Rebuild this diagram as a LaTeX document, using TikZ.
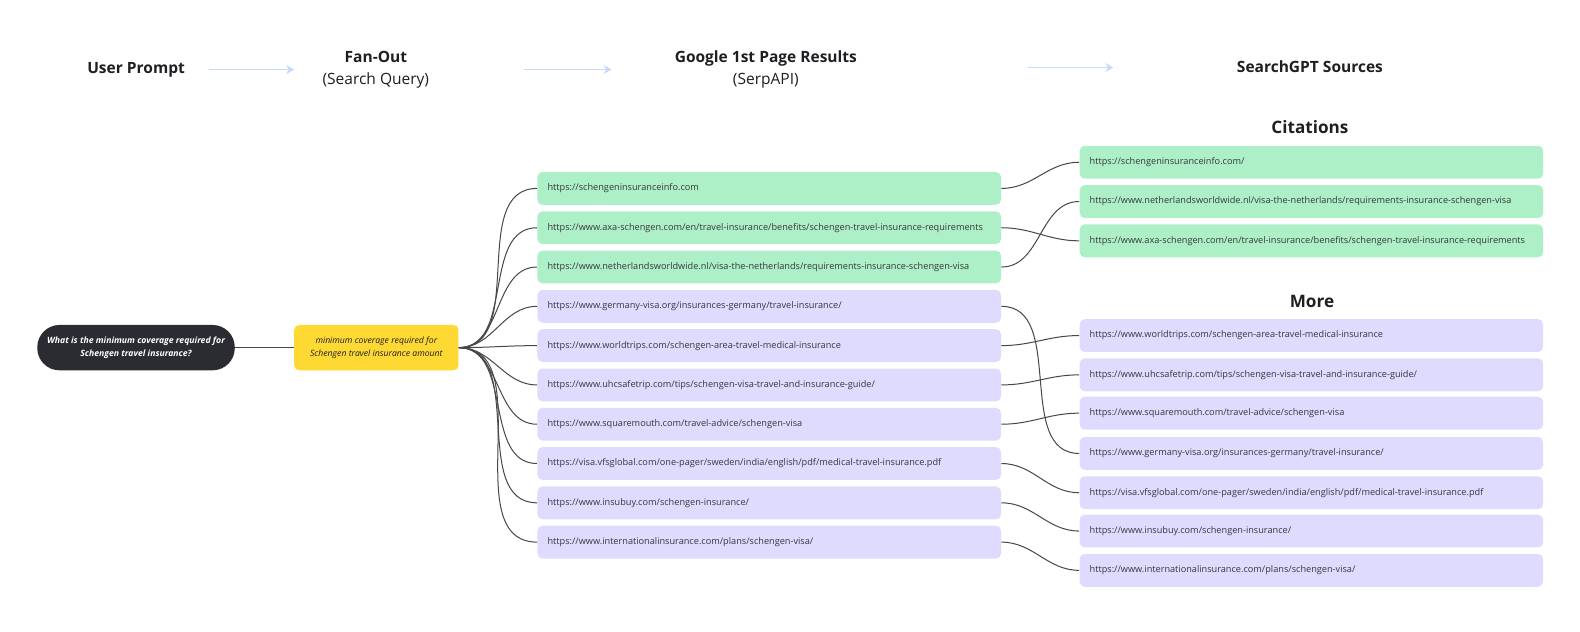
\documentclass[tikz,border=0pt]{standalone}
\usepackage{fontspec}
\setmainfont{Open Sans}
\usetikzlibrary{arrows.meta}
\definecolor{miroGreen}{RGB}{173,240,199}
\definecolor{miroLilac}{RGB}{222,219,255}
\definecolor{miroYellow}{RGB}{254,217,52}
\definecolor{miroDark}{RGB}{43,44,50}
\definecolor{miroArrow}{RGB}{198,218,250}
\definecolor{miroInk}{RGB}{30,30,35}
\definecolor{miroLink}{RGB}{55,55,60}
\tikzset{
  hdr/.style   ={font=\fontsize{7.7}{11}\selectfont, text=miroInk, align=center, inner sep=0pt},
  subhdr/.style={font=\fontsize{8.5}{10}\selectfont\bfseries, text=miroInk, inner sep=0pt},
  flow/.style  ={-{Stealth[length=4pt, width=4.5pt]}, line width=0.9pt, miroArrow},
  url/.style   ={rectangle, rounded corners=2.5pt, anchor=west, text width=220pt,
                 inner xsep=5pt, inner ysep=0pt, minimum height=16.3pt, align=left,
                 font=\fontsize{4.55}{5.5}\selectfont, text=miroLink},
  urlG/.style  ={url, fill=miroGreen},
  urlP/.style  ={url, fill=miroLilac},
  prompt/.style={rectangle, rounded corners=11pt, fill=miroDark, text=white,
                 minimum width=98pt, minimum height=22.5pt, align=center,
                 font=\fontsize{4.3}{6.3}\selectfont\bfseries\itshape},
  query/.style ={rectangle, rounded corners=2.5pt, fill=miroYellow, text=miroInk,
                 minimum width=81.5pt, minimum height=22.5pt, align=center,
                 font=\fontsize{4.3}{6.3}\selectfont\itshape},
  link/.style  ={line width=0.5pt, black!72},
}
\begin{document}
\begin{tikzpicture}[x=0.5pt, y=-0.5pt]
\useasboundingbox (0,0) rectangle (1568,627);
% column headers
\node[hdr] (hUser) at (135,69) {\textbf{User Prompt}};
\node[hdr] (hFan) at (373,69) {\textbf{Fan-Out}\\(Search Query)};
\node[hdr] (hSerp) at (760,69) {\textbf{Google 1st Page Results}\\(SerpAPI)};
\node[hdr] (hGPT) at (1300,66) {\textbf{SearchGPT Sources}};
\node[subhdr] (hCite) at (1300,126) {Citations};
\node[subhdr] (hMore) at (1302,299) {More};
\coordinate (a1s) at (207,69);  \coordinate (a1e) at (292,69);
\coordinate (a2s) at (520,69);  \coordinate (a2e) at (607,69);
\coordinate (a3s) at (1020,67); \coordinate (a3e) at (1105,67);
\draw[flow] (a1s) -- (a1e);
\draw[flow] (a2s) -- (a2e);
\draw[flow] (a3s) -- (a3e);
% prompt and fan-out query
\node[prompt] (prompt) at (135,345) {What is the minimum coverage required for\\Schengen travel insurance?};
\node[query] (query) at (373.5,345) {minimum coverage required for\\Schengen travel insurance amount};
\draw[link, line width=0.7pt] (prompt) -- (query);
% google results
\foreach \i/\y/\s/\u in {
  1/187/urlG/{https://schengeninsuranceinfo.com},
  2/226/urlG/{https://www.axa-schengen.com/en/travel-insurance/benefits/schengen-travel-insurance-requirements},
  3/265/urlG/{https://www.netherlandsworldwide.nl/visa-the-netherlands/requirements-insurance-schengen-visa},
  4/304/urlP/{https://www.germany-visa.org/insurances-germany/travel-insurance/},
  5/343/urlP/{https://www.worldtrips.com/schengen-area-travel-medical-insurance},
  6/382/urlP/{https://www.uhcsafetrip.com/tips/schengen-visa-travel-and-insurance-guide/},
  7/421/urlP/{https://www.squaremouth.com/travel-advice/schengen-visa},
  8/460/urlP/{https://visa.vfsglobal.com/one-pager/sweden/india/english/pdf/medical-travel-insurance.pdf},
  9/499/urlP/{https://www.insubuy.com/schengen-insurance/},
  10/538/urlP/{https://www.internationalinsurance.com/plans/schengen-visa/}}
{
  \node[\s] (m\i) at (533,\y) {\u};
  \draw[link] (query.east) to[out=0, in=180] (m\i.west);
}
% searchgpt citations
\foreach \i/\y/\u in {
  1/161/{https://schengeninsuranceinfo.com/},
  2/200/{https://www.netherlandsworldwide.nl/visa-the-netherlands/requirements-insurance-schengen-visa},
  3/239/{https://www.axa-schengen.com/en/travel-insurance/benefits/schengen-travel-insurance-requirements}}
  {\node[urlG] (c\i) at (1071,\y) {\u};}
% searchgpt more
\foreach \i/\y/\u in {
  1/333/{https://www.worldtrips.com/schengen-area-travel-medical-insurance},
  2/372/{https://www.uhcsafetrip.com/tips/schengen-visa-travel-and-insurance-guide/},
  3/410/{https://www.squaremouth.com/travel-advice/schengen-visa},
  4/450/{https://www.germany-visa.org/insurances-germany/travel-insurance/},
  5/489/{https://visa.vfsglobal.com/one-pager/sweden/india/english/pdf/medical-travel-insurance.pdf},
  6/527/{https://www.insubuy.com/schengen-insurance/},
  7/566/{https://www.internationalinsurance.com/plans/schengen-visa/}}
  {\node[urlP] (r\i) at (1071,\y) {\u};}
\foreach \a/\b in {m1/c1, m2/c3, m3/c2, m4/r4, m5/r1, m6/r2, m7/r3, m8/r5, m9/r6, m10/r7}
  \draw[link] (\a.east) to[out=0, in=180] (\b.west);
\end{tikzpicture}
\end{document}
